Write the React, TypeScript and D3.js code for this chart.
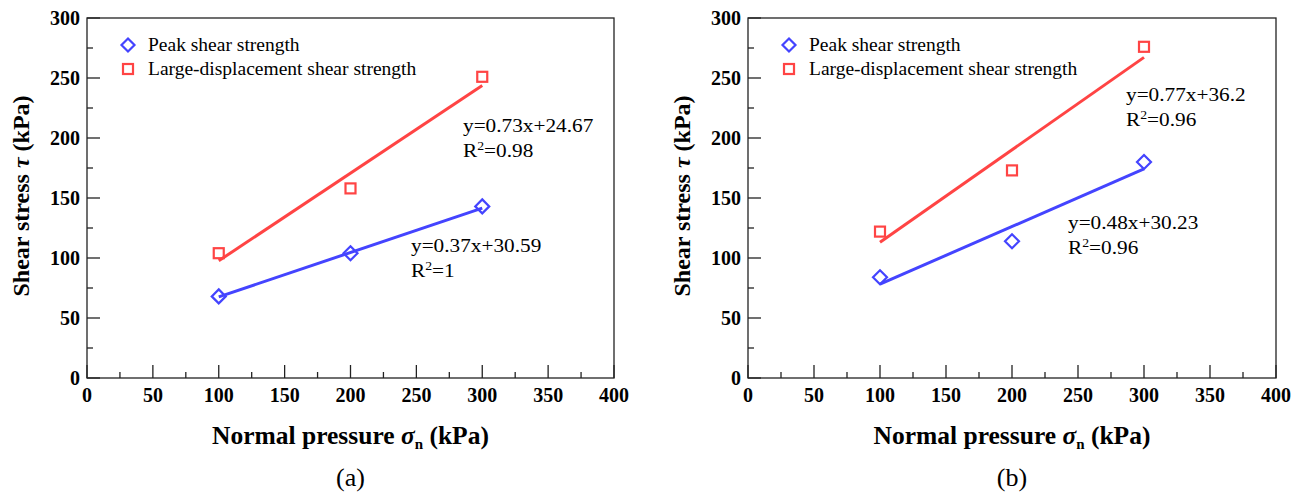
import React from "react";
import * as d3 from "d3";

// ---- data ----
const pressures = [100, 200, 300];
const peakA = [68, 104, 143];
const largeA = [104, 158, 251];
const peakB = [84, 114, 180];
const largeB = [122, 173, 276];

const fitPeakA = [0.37, 30.59];
const fitLargeA = [0.73, 24.67];
const fitPeakB = [0.48, 30.23];
const fitLargeB = [0.77, 36.2];

const eqPeakA = ["y=0.37x+30.59", "=1"];
const eqLargeA = ["y=0.73x+24.67", "=0.98"];
const eqPeakB = ["y=0.48x+30.23", "=0.96"];
const eqLargeB = ["y=0.77x+36.2", "=0.96"];

const xTicks = [0, 50, 100, 150, 200, 250, 300, 350, 400];
const yTicks = [0, 50, 100, 150, 200, 250, 300];
const legendLabels = ["Peak shear strength", "Large-displacement shear strength"];
const panelLabels = ["(a)", "(b)"];

const BLUE = "#4444ff";
const RED = "#ff4444";
const FONT = "'Liberation Serif', 'Times New Roman', serif";

function T({ x, y, size, bold, anchor, children, rotate, sx = 1 }: any) {
  const tf = rotate
    ? `translate(${x},${y}) rotate(-90) scale(1,${sx})`
    : `translate(${x},${y}) scale(${sx},1)`;
  return (
    <text
      transform={tf}
      fontFamily={FONT}
      fontSize={size}
      fontWeight={bold ? "bold" : "normal"}
      textAnchor={anchor || "start"}
      fill="#000"
    >
      {children}
    </text>
  );
}

function Panel({ left, right, top, bottom, peak, large, fitP, fitL, eqP, eqL, eqPpos, eqLpos, label }: any) {
  const x = d3.scaleLinear().domain([0, 400]).range([left, right]);
  const y = d3.scaleLinear().domain([0, 300]).range([bottom, top]);
  const cx = (left + right) / 2;
  const minorX = d3.range(25, 400, 50);
  const minorY = d3.range(25, 300, 50);
  const fitLine = (f: number[]) =>
    d3.line<number>().x((d) => x(d)).y((d) => y(f[0] * d + f[1]))([100, 300]) as string;
  const diamond = (px: number, py: number, r: number) =>
    `M${px},${py - r}L${px + r},${py}L${px},${py + r}L${px - r},${py}Z`;
  const SX = 1.15;
  return (
    <g>
      <rect x={left} y={top} width={right - left} height={bottom - top} fill="none" stroke="#222" strokeWidth={1.3} />
      {xTicks.map((t) => (
        <g key={"xt" + t}>
          <line x1={x(t)} x2={x(t)} y1={bottom} y2={bottom - 13} stroke="#222" strokeWidth={1.3} />
          <T x={x(t)} y={bottom + 24} size={20} bold anchor="middle">{t}</T>
        </g>
      ))}
      {minorX.map((t) => (
        <line key={"xm" + t} x1={x(t)} x2={x(t)} y1={bottom} y2={bottom - 6} stroke="#222" strokeWidth={1.3} />
      ))}
      {yTicks.map((t) => (
        <g key={"yt" + t}>
          <line x1={left} x2={left + 13} y1={y(t)} y2={y(t)} stroke="#222" strokeWidth={1.3} />
          <T x={left - 7} y={y(t) + 7} size={20} bold anchor="end">{t}</T>
        </g>
      ))}
      {minorY.map((t) => (
        <line key={"ym" + t} x1={left} x2={left + 6} y1={y(t)} y2={y(t)} stroke="#222" strokeWidth={1.3} />
      ))}
      {/* fit lines */}
      <path d={fitLine(fitL)} stroke={RED} strokeWidth={3} fill="none" />
      <path d={fitLine(fitP)} stroke={BLUE} strokeWidth={3} fill="none" />
      {/* markers */}
      {pressures.map((p, i) => (
        <rect key={"l" + i} x={x(p) - 5} y={y(large[i]) - 5} width={10} height={10} fill="none" stroke={RED} strokeWidth={2.2} />
      ))}
      {pressures.map((p, i) => (
        <path key={"p" + i} d={diamond(x(p), y(peak[i]), 7)} fill="none" stroke={BLUE} strokeWidth={2.2} />
      ))}
      {/* legend */}
      <path d={diamond(left + 41, top + 27, 6.5)} fill="none" stroke={BLUE} strokeWidth={2.2} />
      <T x={left + 61} y={top + 33} size={19.5}>{legendLabels[0]}</T>
      <rect x={left + 36} y={top + 46} width={10} height={10} fill="none" stroke={RED} strokeWidth={2.2} />
      <T x={left + 61} y={top + 57} size={19.5}>{legendLabels[1]}</T>
      {/* equations */}
      <T x={eqLpos[0]} y={eqLpos[1]} size={18.5} sx={SX}>{eqL[0]}</T>
      <T x={eqLpos[0]} y={eqLpos[1] + 25} size={18.5} sx={SX}>
        R<tspan dy={-7} fontSize={12}>2</tspan><tspan dy={7}>{eqL[1]}</tspan>
      </T>
      <T x={eqPpos[0]} y={eqPpos[1]} size={18.5} sx={SX}>{eqP[0]}</T>
      <T x={eqPpos[0]} y={eqPpos[1] + 25} size={18.5} sx={SX}>
        R<tspan dy={-7} fontSize={12}>2</tspan><tspan dy={7}>{eqP[1]}</tspan>
      </T>
      {/* axis titles */}
      <T x={cx} y={bottom + 66} size={25.5} bold anchor="middle">
        Normal pressure <tspan fontStyle="italic">σ</tspan><tspan dy={5} fontSize={15}>n</tspan><tspan dy={-5}> (kPa)</tspan>
      </T>
      <T x={cx} y={bottom + 108} size={26} anchor="middle">{label}</T>
      <T x={left - 58} y={(top + bottom) / 2 - 2} size={24} bold anchor="middle" rotate>
        Shear stress <tspan fontStyle="italic">τ</tspan> (kPa)
      </T>
    </g>
  );
}

export default function App() {
  return (
    <svg width={1304} height={494} style={{ position: "absolute", left: 0, top: 0, background: "#fff" }}>
      <rect width={1304} height={494} fill="#fff" />
      <Panel left={87} right={614} top={18} bottom={378} peak={peakA} large={largeA}
        fitP={fitPeakA} fitL={fitLargeA} eqP={eqPeakA} eqL={eqLargeA}
        eqPpos={[411, 252]} eqLpos={[463, 132]} label={panelLabels[0]} />
      <Panel left={748} right={1276} top={18} bottom={378} peak={peakB} large={largeB}
        fitP={fitPeakB} fitL={fitLargeB} eqP={eqPeakB} eqL={eqLargeB}
        eqPpos={[1068, 229]} eqLpos={[1126, 101]} label={panelLabels[1]} />
    </svg>
  );
}
